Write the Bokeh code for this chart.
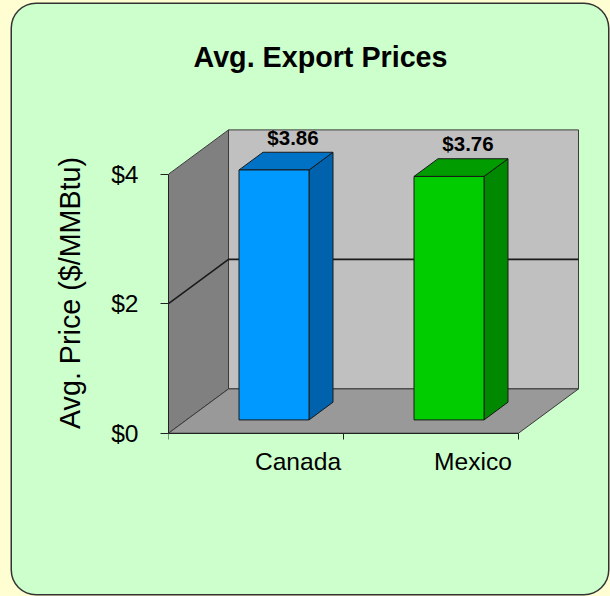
from bokeh.plotting import figure
from bokeh.layouts import column
from bokeh.models import Range1d, FixedTicker, LinearAxis
from bokeh.embed import file_html
from bokeh.resources import INLINE
from bokeh.core.properties import value

# ---------------- data ----------------
categories = ["Canada", "Mexico"]
prices = [3.86, 3.76]
price_labels = ["$%.2f" % v for v in prices]
y_ticks = [0, 2, 4]
y_tick_labels = ["$0", "$2", "$4"]
front_colors = ["#0099FF", "#00CC00"]
top_colors = ["#0072C6", "#009C00"]
side_colors = ["#0062AD", "#008800"]

title_text = "Avg. Export Prices"
y_title_text = "Avg. Price ($/MMBtu)"

# ---------------- layout constants ----------------
PAGE_W, PAGE_H = 610, 596
OFF_L, OFF_T, OFF_R, OFF_B = 12, 4, 2, 2
W, H = PAGE_W - OFF_L - OFF_R, PAGE_H - OFF_T - OFF_B    # 596 x 590
B_LEFT, B_RIGHT, B_TOP = 156, 18, 99
FRAME_W = W - B_LEFT - B_RIGHT
FRAME_H = 379
B_BOTTOM = H - B_TOP - FRAME_H
PX_X = 175.0     # px per category
PX_Y = 64.75     # px per $1
ZERO_PX = 49.3   # px from frame bottom up to $0
DX = 60.0 / PX_X     # depth offset in x units
DY = 44.3 / PX_Y     # depth offset in y units
WALL_TOP = 4
D0, D1 = 0.3, 0.7    # bar depth fractions
BAR_W = 0.4
LABEL_SHIFT = 0.24
LABEL_LIFT = 15      # px between bar top and value label

GREEN = "#CCFFCC"
YELLOW = "#FFFDD2"
EDGE = "#3a3a3a"
FONT = "Liberation Sans"

n = len(categories)
y0r = -ZERO_PX / PX_Y

p = figure(width=W, height=H, output_backend="svg", toolbar_location=None,
           x_range=Range1d(0, FRAME_W / PX_X),
           y_range=Range1d(y0r, y0r + FRAME_H / PX_Y),
           x_axis_type=None, y_axis_type=None,
           min_border_left=B_LEFT, min_border_right=B_RIGHT,
           min_border_top=B_TOP, min_border_bottom=B_BOTTOM,
           margin=(OFF_T, OFF_R, OFF_B, OFF_L),
           styles={"border-radius": "24px", "overflow": "hidden",
                   "background-color": GREEN,
                   "box-shadow": "0 0 0 1.5px #333333"})
p.background_fill_alpha = 0
p.border_fill_alpha = 0
p.outline_line_color = None

# title
p.title.text = title_text
p.title.text_font = FONT
p.title.text_font_style = "bold"
p.title.text_font_size = "28.7px"
p.title.text_color = "black"
p.title.align = "left"
p.title.offset = 25
p.title.standoff = 61

# ---------------- 3D walls ----------------
p.patch([0, DX, DX, 0], [0, DY, WALL_TOP + DY, WALL_TOP],
        fill_color="#808080", line_color=EDGE, line_width=1)
p.patch([DX, n + DX, n + DX, DX], [DY, DY, WALL_TOP + DY, WALL_TOP + DY],
        fill_color="#C0C0C0", line_color=EDGE, line_width=1)
p.patch([0, n, n + DX, DX], [0, 0, DY, DY],
        fill_color="#999999", line_color=EDGE, line_width=1)

# gridlines (interior ticks)
gx, gy = [], []
for t in y_ticks:
    if 0 < t < WALL_TOP:
        gx.append([0, DX, n + DX])
        gy.append([t, t + DY, t + DY])
p.multi_line(gx, gy, line_color="#1a1a1a", line_width=1.6)

# ---------------- 3D bars ----------------
side_xs, side_ys, top_xs, top_ys = [], [], [], []
fx0, fx1, fy0, fy1 = [], [], [], []
dd = D1 - D0
for i, v in enumerate(prices):
    x0 = i + 0.5 - BAR_W / 2 + D0 * DX
    x1 = x0 + BAR_W
    y0 = D0 * DY
    y1 = v + D0 * DY
    fx0.append(x0); fx1.append(x1); fy0.append(y0); fy1.append(y1)
    side_xs.append([x1, x1 + dd * DX, x1 + dd * DX, x1])
    side_ys.append([y0, y0 + dd * DY, y1 + dd * DY, y1])
    top_xs.append([x0, x1, x1 + dd * DX, x0 + dd * DX])
    top_ys.append([y1, y1, y1 + dd * DY, y1 + dd * DY])

p.patches(side_xs, side_ys, fill_color=side_colors, line_color="#1a1a1a", line_width=1)
p.patches(top_xs, top_ys, fill_color=top_colors, line_color="#1a1a1a", line_width=1)
p.quad(left=fx0, right=fx1, bottom=fy0, top=fy1, fill_color=front_colors,
       line_color="#1a1a1a", line_width=1)

# value labels
p.text(x=[i + 0.5 + 0.5 * DX for i in range(n)],
       y=[v + D1 * DY + LABEL_LIFT / PX_Y for v in prices],
       text=price_labels, text_font=value(FONT), text_font_style="bold",
       text_font_size="20.5px", text_align="center", text_baseline="alphabetic",
       x_offset=7, text_color="black")

# ---------------- axes ----------------
yaxis = LinearAxis(ticker=FixedTicker(ticks=y_ticks),
                   major_label_overrides=dict(zip(y_ticks, y_tick_labels)),
                   bounds=(0, WALL_TOP), major_tick_out=8, major_tick_in=0,
                   minor_tick_out=0, minor_tick_in=0, major_label_standoff=22,
                   axis_line_color="#222222", major_tick_line_color="#222222",
                   major_label_text_font=FONT, major_label_text_font_size="24.6px",
                   major_label_text_color="black",
                   axis_label=y_title_text, axis_label_standoff=22,
                   axis_label_text_font=FONT, axis_label_text_font_size="28.7px",
                   axis_label_text_font_style="normal", axis_label_text_color="black")
p.add_layout(yaxis, "left")

label_pos = [round(i + 0.5 + LABEL_SHIFT, 3) for i in range(n)]
xaxis = LinearAxis(ticker=FixedTicker(ticks=label_pos, minor_ticks=list(range(n + 1))),
                   major_label_overrides=dict(zip(label_pos, categories)),
                   fixed_location=0,
                   bounds=(0, n), major_tick_out=0, major_tick_in=0,
                   minor_tick_out=6, minor_tick_in=0, major_label_standoff=9,
                   axis_line_color="#222222", minor_tick_line_color="#222222",
                   major_tick_line_color=None,
                   major_label_text_font=FONT, major_label_text_font_size="24.6px",
                   major_label_text_color="black")
p.add_layout(xaxis, "below")

page = column(p, width=PAGE_W, height=PAGE_H, styles={"background-color": YELLOW})

open("out.html", "w").write(file_html(page, INLINE))
